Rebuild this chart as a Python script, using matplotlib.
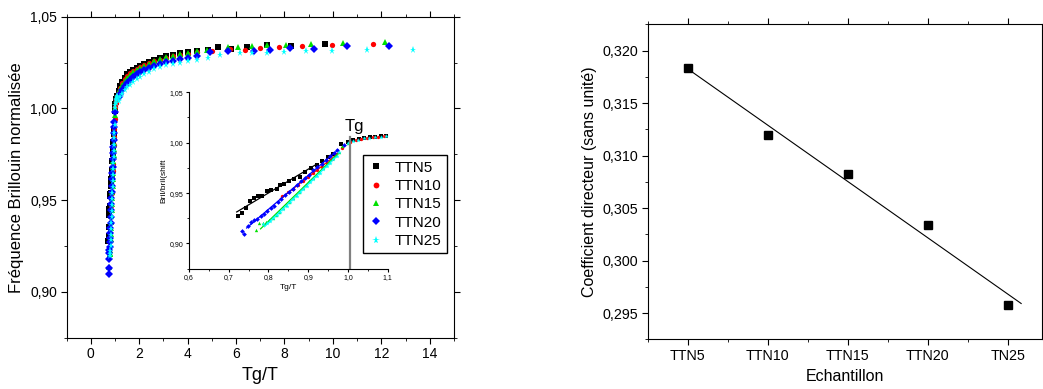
import numpy as np
import matplotlib
matplotlib.use("Agg")
import matplotlib.pyplot as plt
from matplotlib.ticker import MultipleLocator, FuncFormatter

plt.rcParams['font.family'] = ['Liberation Sans', 'DejaVu Sans']

# --- Brillouin data: Tg/T and normalised frequency for each sample ---
ttn5_x = [0.7225, 0.7342, 0.7443, 0.7527, 0.7636, 0.7745, 0.7846, 0.7955, 0.8055, 0.8206,
          0.8290, 0.8391, 0.8508, 0.8643, 0.8794, 0.8919, 0.9062, 0.9213, 0.9339, 0.9507,
          0.9633, 0.9817, 1.000, 1.013, 1.027, 1.041, 1.055, 1.069, 1.083, 1.097,
          1.15, 1.22, 1.30, 1.40, 1.50, 1.62, 1.75, 1.90, 2.05, 2.20, 2.40, 2.60, 2.85,
          3.10, 3.40, 3.70, 4.00, 4.40, 4.85, 5.27, 5.79, 6.44, 7.26, 8.26, 9.66]
ttn5_y = [0.9276, 0.9303, 0.9355, 0.9421, 0.9454, 0.9467, 0.9467, 0.9523, 0.9533, 0.9539,
          0.9579, 0.9592, 0.9615, 0.9638, 0.9664, 0.9714, 0.9753, 0.9780, 0.9819, 0.9862,
          0.9885, 0.9987, 1.0005, 1.0025, 1.0035, 1.0045, 1.0052, 1.0058, 1.0063, 1.0068,
          1.0095, 1.0120, 1.0145, 1.0168, 1.0185, 1.0200, 1.0212, 1.0222, 1.0232, 1.0242,
          1.0254, 1.0264, 1.0276, 1.0284, 1.0293, 1.0301, 1.0307, 1.0315, 1.0321, 1.0335,
          1.0324, 1.0335, 1.0344, 1.0342, 1.0349]

ttn10_x = [0.8332, 0.8500, 0.8626, 0.8752, 0.8878, 0.9003, 0.9129, 0.9230, 0.9339, 0.9465,
           0.9590, 0.9700, 0.9860, 1.006, 1.020, 1.034, 1.048, 1.062, 1.076, 1.090,
           1.15, 1.22, 1.30, 1.40, 1.50, 1.62, 1.75, 1.90, 2.05, 2.20, 2.40, 2.60, 2.85,
           3.10, 3.40, 3.70, 4.00, 4.40, 5.01, 5.75, 6.37, 6.99, 7.78, 8.74, 9.97, 11.64]
ttn10_y = [0.9467, 0.9510, 0.9540, 0.9579, 0.9615, 0.9658, 0.9697, 0.9730, 0.9763, 0.9803,
           0.9842, 0.9888, 0.9944, 1.0010, 1.0028, 1.0040, 1.0048, 1.0055, 1.0060, 1.0065,
           1.0088, 1.0112, 1.0136, 1.0158, 1.0176, 1.0192, 1.0205, 1.0216, 1.0226, 1.0235,
           1.0246, 1.0256, 1.0266, 1.0275, 1.0284, 1.0292, 1.0298, 1.0305, 1.0313, 1.0322,
           1.0318, 1.0327, 1.0333, 1.0340, 1.0346, 1.0349]

ttn15_x = [0.7686, 0.7770, 0.7854, 0.7938, 0.8022, 0.8106, 0.8190, 0.8273, 0.8357, 0.8441,
           0.8525, 0.8609, 0.8693, 0.8777, 0.8861, 0.8945, 0.9029, 0.9112, 0.9196, 0.9280,
           0.9364, 0.9448, 0.9532, 0.9616, 0.9700, 0.9767, 0.985, 1.000,
           1.15, 1.22, 1.30, 1.40, 1.50, 1.62, 1.75, 1.90, 2.05, 2.20, 2.40, 2.60, 2.85,
           3.10, 3.40, 3.70, 4.00, 4.40, 4.79, 5.66, 6.08, 6.64, 7.29, 8.08, 9.11, 10.41, 12.15]
ttn15_y = [0.9138, 0.9204, 0.9204, 0.9210, 0.9230, 0.9253, 0.9286, 0.9316, 0.9349, 0.9382,
           0.9414, 0.9447, 0.9480, 0.9513, 0.9546, 0.9579, 0.9615, 0.9648, 0.9681, 0.9714,
           0.9747, 0.9780, 0.9812, 0.9845, 0.9878, 0.9911, 0.9965, 1.0000,
           1.0082, 1.0105, 1.0128, 1.0150, 1.0168, 1.0184, 1.0198, 1.0211, 1.0222, 1.0232,
           1.0244, 1.0256, 1.0268, 1.0278, 1.0288, 1.0297, 1.0304, 1.0312, 1.0318, 1.0333,
           1.0335, 1.0340, 1.0346, 1.0347, 1.0353, 1.0358, 1.0360]

ttn20_x = [0.7326, 0.7393, 0.7477, 0.7560, 0.7636, 0.7720, 0.7804, 0.7888, 0.7971, 0.8055,
           0.8148, 0.8231, 0.8315, 0.8416, 0.8525, 0.8626, 0.8727, 0.8827, 0.8928, 0.9029,
           0.9129, 0.9230, 0.9339, 0.9448, 0.9549, 0.9649, 0.9733, 0.990,
           1.15, 1.22, 1.30, 1.40, 1.50, 1.62, 1.75, 1.90, 2.05, 2.20, 2.40, 2.60, 2.85,
           3.10, 3.40, 3.70, 4.00, 4.40, 4.93, 5.68, 6.74, 7.40, 8.22, 9.23, 10.58, 12.30]
ttn20_y = [0.9128, 0.9099, 0.9178, 0.9210, 0.9230, 0.9243, 0.9270, 0.9296, 0.9319, 0.9349,
           0.9375, 0.9408, 0.9444, 0.9477, 0.9510, 0.9543, 0.9579, 0.9615, 0.9648, 0.9681,
           0.9724, 0.9757, 0.9789, 0.9829, 0.9868, 0.9901, 0.9928, 0.9980,
           1.0060, 1.0080, 1.0100, 1.0120, 1.0140, 1.0155, 1.0170, 1.0185, 1.0197, 1.0208,
           1.0220, 1.0230, 1.0242, 1.0252, 1.0260, 1.0268, 1.0276, 1.0285, 1.0306, 1.0315,
           1.0315, 1.0317, 1.0331, 1.0326, 1.0340, 1.0340]

ttn25_x = [0.7870, 0.7955, 0.8039, 0.8122, 0.8206, 0.8290, 0.8374, 0.8458, 0.8542, 0.8626,
           0.8710, 0.8794, 0.8877, 0.8961, 0.9045, 0.9129, 0.9213, 0.9297, 0.9381, 0.9465,
           0.9549, 0.9633, 0.9716, 0.9784, 1.000, 1.013, 1.026, 1.040, 1.054, 1.068, 1.082, 1.095,
           1.15, 1.22, 1.30, 1.40, 1.50, 1.62, 1.75, 1.90, 2.05, 2.20, 2.40, 2.60, 2.85,
           3.10, 3.40, 3.70, 4.00, 4.40, 4.85, 5.34, 6.16, 6.67, 7.26, 7.99, 8.88, 9.96, 11.41, 13.32]
ttn25_y = [0.9197, 0.9204, 0.9224, 0.9250, 0.9283, 0.9312, 0.9345, 0.9375, 0.9408, 0.9441,
           0.9474, 0.9507, 0.9539, 0.9572, 0.9605, 0.9638, 0.9671, 0.9704, 0.9737, 0.9770,
           0.9803, 0.9836, 0.9868, 0.9911, 1.0000, 1.0020, 1.0030, 1.0045, 1.0050, 1.0055,
           1.0060, 1.0065,
           1.0040, 1.0060, 1.0080, 1.0100, 1.0115, 1.0130, 1.0145, 1.0160, 1.0172, 1.0185,
           1.0200, 1.0213, 1.0225, 1.0235, 1.0243, 1.0250, 1.0258, 1.0266, 1.0275, 1.0291,
           1.0304, 1.0304, 1.0304, 1.0307, 1.0315, 1.0313, 1.0318, 1.0316]

labels = ['TTN5', 'TTN10', 'TTN15', 'TTN20', 'TTN25']
colors = ['black', 'red', '#00e000', 'blue', 'cyan']
markers = ['s', 'o', '^', 'D', '*']
# Tg/T ranges used for the linear fits in the inset
fit_ranges = [(0.72, 0.92), (0.83, 0.975), (0.78, 0.975), (0.745, 0.975), (0.79, 0.97)]

# --- slope of each fit vs sample ---
samples = ['TTN5', 'TTN10', 'TTN15', 'TTN20', 'TN25']
slopes = [0.3183, 0.3120, 0.3082, 0.3034, 0.2958]

series = [(ttn5_x, ttn5_y), (ttn10_x, ttn10_y), (ttn15_x, ttn15_y),
          (ttn20_x, ttn20_y), (ttn25_x, ttn25_y)]

comma = lambda fmt: FuncFormatter(lambda v, p: format(v, fmt).replace('.', ','))

fig = plt.figure(figsize=(10.43, 3.89), dpi=100)

# Main plot
ax = fig.add_axes([0.0639, 0.1319, 0.3713, 0.8252])
for (x, y), lab, c, m in zip(series, labels, colors, markers):
    ms = 5.2 if m == '*' else 3.8
    ax.plot(x, y, linestyle='none', marker=m, color=c, markersize=ms,
            markeredgewidth=0, label=lab)
ax.set_xlim(-1, 15)
ax.set_ylim(0.875, 1.05)
ax.xaxis.set_major_locator(MultipleLocator(2))
ax.xaxis.set_minor_locator(MultipleLocator(1))
ax.yaxis.set_major_locator(MultipleLocator(0.05))
ax.yaxis.set_minor_locator(MultipleLocator(0.025))
ax.yaxis.set_major_formatter(comma('.2f'))
ax.tick_params(which='both', direction='out', top=True, right=True, labelsize=10, pad=3)
ax.tick_params(which='major', length=4)
ax.tick_params(which='minor', length=2.5)
ax.set_xlabel('Tg/T', fontsize=13)
ax.set_ylabel('Fréquence Brillouin normalisée', fontsize=12)
ax.legend(loc='lower right', bbox_to_anchor=(0.981, 0.263), fontsize=11,
          frameon=True, fancybox=False, edgecolor='black', framealpha=1,
          handlelength=1.0, handletextpad=0.7, labelspacing=0.28, borderpad=0.35,
          borderaxespad=0, markerscale=1.1)

# Inset
ins = fig.add_axes([0.1812, 0.3093, 0.1905, 0.4535], facecolor='none')
for (x, y), c, m, (lo, hi) in zip(series, colors, markers, fit_ranges):
    ms = 3.4 if m == '*' else 2.4
    ins.plot(x, y, linestyle='none', marker=m, color=c, markersize=ms, markeredgewidth=0)
    xa = np.array(x)
    ya = np.array(y)
    sel = (xa >= lo) & (xa <= hi)
    p = np.polyfit(xa[sel], ya[sel], 1)
    ins.plot([lo, hi], np.polyval(p, [lo, hi]), color=c, linewidth=0.9)
ins.axvline(1.005, ymin=0, ymax=(1.006 - 0.875) / 0.175, color='#808080', linewidth=1.6)
ins.text(0.992, 1.016, 'Tg', fontsize=12, ha='left', va='center')
ins.set_xlim(0.6, 1.1)
ins.set_ylim(0.875, 1.05)
ins.spines['top'].set_visible(False)
ins.spines['right'].set_visible(False)
ins.xaxis.set_major_locator(MultipleLocator(0.1))
ins.xaxis.set_minor_locator(MultipleLocator(0.05))
ins.yaxis.set_major_locator(MultipleLocator(0.05))
ins.yaxis.set_minor_locator(MultipleLocator(0.025))
ins.xaxis.set_major_formatter(comma('.1f'))
ins.yaxis.set_major_formatter(comma('.2f'))
ins.tick_params(which='both', direction='out', labelsize=5, pad=1.5)
ins.tick_params(which='major', length=2.5)
ins.tick_params(which='minor', length=1.5)
ins.set_xlabel('Tg/T', fontsize=6, labelpad=2)
ins.set_ylabel('Bril/bril(shift', fontsize=6, labelpad=2)

# Right plot: slopes
ax2 = fig.add_axes([0.621, 0.1278, 0.378, 0.8097])
xs = np.arange(1, len(samples) + 1)
ax2.plot(xs, slopes, linestyle='none', marker='s', color='black', markersize=5.5)
p2 = np.polyfit(xs, slopes, 1)
xf = np.array([1.0, 5.17])
ax2.plot(xf, np.polyval(p2, xf), color='black', linewidth=0.8)
ax2.set_xlim(0.5, 5.43)
ax2.set_ylim(0.2925, 0.3225)
ax2.set_xticks(xs)
ax2.set_xticklabels(samples)
ax2.xaxis.set_minor_locator(MultipleLocator(0.5))
ax2.yaxis.set_major_locator(MultipleLocator(0.005))
ax2.yaxis.set_minor_locator(MultipleLocator(0.0025))
ax2.yaxis.set_major_formatter(comma('.3f'))
ax2.tick_params(which='both', direction='out', top=True, labelsize=10.3, pad=3)
ax2.tick_params(which='major', length=4)
ax2.tick_params(which='minor', length=2.5)
ax2.set_xlabel('Echantillon', fontsize=11.5)
ax2.set_ylabel('Coefficient directeur (sans unité)', fontsize=11.5)

plt.savefig('out.png', dpi=100)
